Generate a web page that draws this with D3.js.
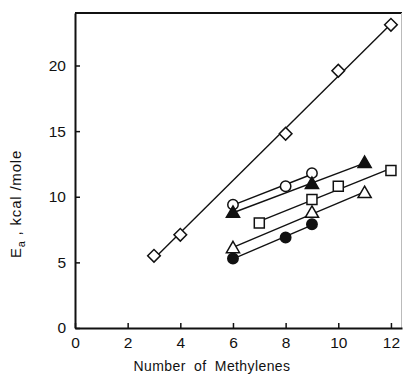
<!DOCTYPE html>
<html>
<head>
<meta charset="utf-8">
<script src="https://cdn.jsdelivr.net/npm/d3@7"></script>
<style>
  body { margin: 0; background: #fff; }
  text { font-family: "Liberation Sans", Arial, sans-serif; fill: #111; }
</style>
</head>
<body>
<div id="chart"></div>
<script>
// values (x = number of methylenes, y = Ea kcal/mole)
const diamondX = [3, 4, 8, 10, 12];
const diamondY = [5.5, 7.1, 14.8, 19.6, 23.1];
const openCircleX = [6, 8, 9];
const openCircleY = [9.4, 10.8, 11.8];
const filledTriX = [6, 9, 11];
const filledTriY = [8.8, 11.0, 12.6];
const squareX = [7, 9, 10, 12];
const squareY = [8.0, 9.8, 10.8, 12.0];
const openTriX = [6, 9, 11];
const openTriY = [6.1, 8.8, 10.3];
const filledCircleX = [6, 8, 9];
const filledCircleY = [5.3, 6.9, 7.9];

const xTicks = [0, 2, 4, 6, 8, 10, 12];
const yTicks = [0, 5, 10, 15, 20];

const series = [
  { xs: diamondX, ys: diamondY, shape: "diamond", filled: false },
  { xs: openCircleX, ys: openCircleY, shape: "circle", filled: false },
  { xs: filledTriX, ys: filledTriY, shape: "triangle", filled: true },
  { xs: squareX, ys: squareY, shape: "square", filled: false },
  { xs: openTriX, ys: openTriY, shape: "triangle", filled: false },
  { xs: filledCircleX, ys: filledCircleY, shape: "circle", filled: true },
];

const width = 403, height = 378;
const x = d3.scaleLinear().domain([0, 12.42]).range([75, 402]);
const y = d3.scaleLinear().domain([0, 24]).range([328, 13]);

const svg = d3.select("#chart").append("svg")
  .attr("width", width).attr("height", height);

// frame
svg.append("line").attr("x1", 75).attr("x2", 402).attr("y1", 13).attr("y2", 13)
  .attr("stroke", "#111").attr("stroke-width", 2);
svg.append("line").attr("x1", 401.5).attr("x2", 401.5).attr("y1", 13).attr("y2", 328)
  .attr("stroke", "#bbb").attr("stroke-width", 1);

// axes with inward ticks
const xAxis = svg.append("g").attr("transform", "translate(0,328)")
  .call(d3.axisBottom(x).tickValues(xTicks).tickSizeInner(-5).tickSizeOuter(0).tickPadding(8));
const yAxis = svg.append("g").attr("transform", "translate(75,0)")
  .call(d3.axisLeft(y).tickValues(yTicks).tickSizeInner(-5).tickSizeOuter(0).tickPadding(9));

[xAxis, yAxis].forEach(a => {
  a.select(".domain").attr("stroke", "#111").attr("stroke-width", 2);
  a.selectAll(".tick line").attr("stroke", "#111").attr("stroke-width", 1.5);
  a.selectAll(".tick text").attr("font-size", 15.5).attr("fill", "#111")
    .style("font-family", "Liberation Sans, Arial, sans-serif");
});
xAxis.selectAll(".tick text").attr("dy", "0.75em");

// fitted lines
function fit(xs, ys) {
  const mx = d3.mean(xs), my = d3.mean(ys);
  const b = d3.sum(xs, (v, i) => (v - mx) * (ys[i] - my)) / d3.sum(xs, v => (v - mx) * (v - mx));
  return v => my + b * (v - mx);
}

const plot = svg.append("g");
series.forEach(s => {
  const f = fit(s.xs, s.ys);
  const x0 = d3.min(s.xs), x1 = d3.max(s.xs);
  plot.append("line")
    .attr("x1", x(x0)).attr("y1", y(f(x0)))
    .attr("x2", x(x1)).attr("y2", y(f(x1)))
    .attr("stroke", "#111").attr("stroke-width", 1.4);
});

const symbolType = {
  diamond: d3.symbolSquare,
  circle: d3.symbolCircle,
  triangle: d3.symbolTriangle,
  square: d3.symbolSquare,
};
const symbolSize = { diamond: 80, circle: 85, triangle: 75, square: 100 };

series.forEach(s => {
  const sym = d3.symbol().type(symbolType[s.shape]).size(symbolSize[s.shape]);
  plot.selectAll(null).data(s.xs.map((v, i) => [v, s.ys[i]])).enter()
    .append("path")
    .attr("d", sym)
    .attr("transform", d => "translate(" + x(d[0]) + "," + y(d[1]) + ")" +
      (s.shape === "diamond" ? " rotate(45)" : "") +
      (s.shape === "triangle" ? " translate(0,1)" : ""))
    .attr("fill", s.filled ? "#111" : "#fff")
    .attr("stroke", "#111").attr("stroke-width", 1.5);
});

// axis titles
svg.append("text").attr("x", 212).attr("y", 371).attr("text-anchor", "middle")
  .attr("font-size", 14).attr("letter-spacing", 0.4).attr("word-spacing", 4)
  .text("Number of Methylenes");

const yl = svg.append("text")
  .attr("transform", "translate(21,204) rotate(-90)")
  .attr("text-anchor", "middle").attr("font-size", 15).attr("letter-spacing", 0.8);
yl.append("tspan").text("E");
yl.append("tspan").attr("font-size", 11).attr("dy", 4).text("a");
yl.append("tspan").attr("dy", -4).text(" , kcal /mole");
</script>
</body>
</html>
